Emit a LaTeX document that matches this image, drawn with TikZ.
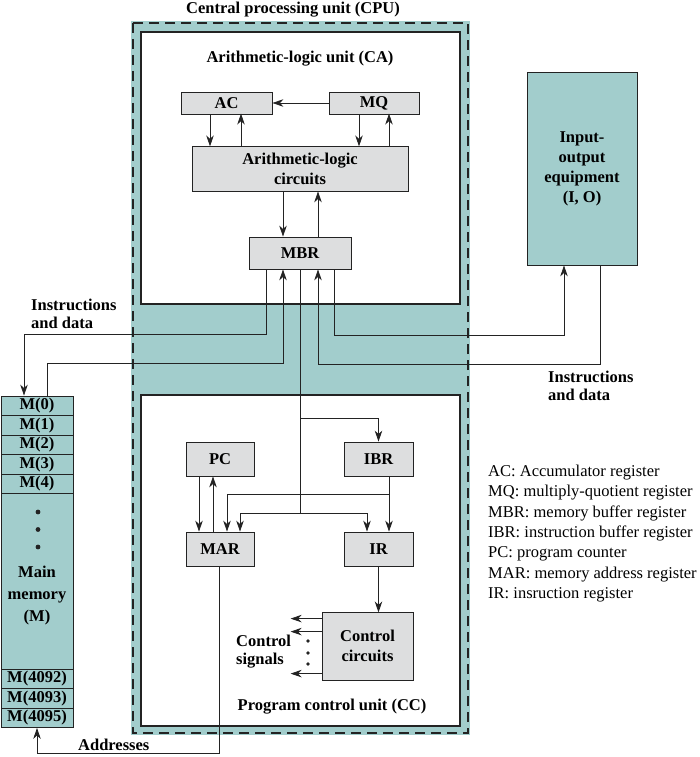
\documentclass[tikz,border=0pt]{standalone}
\usepackage{fontspec}
\setmainfont{Liberation Serif}
\usetikzlibrary{arrows.meta}
\definecolor{teal1}{RGB}{162,205,204}
\definecolor{gray1}{RGB}{221,222,223}
\definecolor{ink}{RGB}{35,35,35}
\begin{document}
\begin{tikzpicture}[x=1pt,y=-1pt,
  font=\fontsize{16.5}{20}\selectfont,
  reg/.style={draw=ink, fill=gray1, line width=0.8pt, inner sep=0pt, align=center,
    font=\fontsize{16.5}{20}\selectfont\bfseries},
  cell/.style={draw=ink, fill=teal1, line width=0.8pt, inner sep=0pt, minimum width=72pt,
    minimum height=19.5pt, font=\fontsize{16.5}{20}\selectfont\bfseries},
  arr/.style={draw=ink, line width=0.8pt, -{Stealth[length=11pt,width=7.5pt,inset=3.5pt]}},
  ln/.style={draw=ink, line width=0.8pt},
  lbl/.style={font=\fontsize{16.5}{18}\selectfont\bfseries, align=left, inner sep=0pt},
  unitbox/.style={draw=ink, fill=white, line width=2.5pt},
  dot/.style={fill=ink, draw=none}]
\useasboundingbox (0,0) rectangle (699,757);

% CPU region
\fill[teal1] (131,21) rectangle (470,735);
\draw[unitbox] (141,32) rectangle (460,304);
\draw[unitbox] (141,395) rectangle (460,726);
\draw[ink, line width=2.5pt, dash pattern=on 10pt off 6pt] (133,23) rectangle (468,733);

\node[lbl] (cputitle) at (293,10) {Central processing unit (CPU)};
\node[lbl] (alutitle) at (300,59) {Arithmetic-logic unit (CA)};
\node[lbl] (pcutitle) at (332,707) {Program control unit (CC)};

% ALU registers
\node[reg, minimum width=91pt, minimum height=22pt] (ac) at (226.5,103) {AC};
\node[reg, minimum width=90pt, minimum height=22pt] (mq) at (374,103) {MQ};
\node[reg, minimum width=216pt, minimum height=45pt] (alc) at (300,168.5) {Arithmetic-logic\\circuits};
\node[reg, minimum width=102pt, minimum height=32pt] (mbr) at (300,253) {MBR};

% I/O
\node[draw=ink, fill=teal1, line width=0.8pt, minimum width=110pt, minimum height=193pt,
  inner sep=0pt, align=center, font=\fontsize{16.5}{20}\selectfont\bfseries]
  (io) at (582,168.5) {Input-\\output\\equipment\\(I, O)};

% Program control registers
\node[reg, minimum width=68pt, minimum height=34pt] (pc) at (220,459) {PC};
\node[reg, minimum width=69pt, minimum height=34pt] (ibr) at (378.5,459) {IBR};
\node[reg, minimum width=68pt, minimum height=34pt] (mar) at (220,549) {MAR};
\node[reg, minimum width=69pt, minimum height=34pt] (ir) at (378.5,549) {IR};
\node[reg, minimum width=91pt, minimum height=68pt] (ctrl) at (367.5,646) {Control\\circuits};

% Main memory
\node[cell, minimum height=331.5pt] (mem) at (37,561.75) {};
\node[cell] (m0) at (37,405.75) {M(0)};
\node[cell] (m1) at (37,425.25) {M(1)};
\node[cell] (m2) at (37,444.75) {M(2)};
\node[cell] (m3) at (37,464.25) {M(3)};
\node[cell] (m4) at (37,483.75) {M(4)};
\node[cell, minimum height=175.5pt] (mbig) at (37,581.25) {};
\node[cell] (m4092) at (37,678.75) {M(4092)};
\node[cell] (m4093) at (37,698.25) {M(4093)};
\node[cell] (m4095) at (37,717.75) {M(4095)};
\fill[dot] (38,512) circle (2.4pt) (38,529.5) circle (2.4pt) (38,547) circle (2.4pt);
\node[lbl, align=center, font=\fontsize{16.5}{22}\selectfont\bfseries] (mmlabel) at (37,596) {Main\\memory\\(M)};

% ALU connections
\draw[arr] (mq.west) -- (ac.east);
\draw[arr] ([xshift=-16.5pt]ac.south) -- ++(0,32);
\draw[arr] (alc.north -| ac.south) ++(14.5,0) -- ++(0,-32);
\draw[arr] ([xshift=-15pt]mq.south) -- ++(0,32);
\draw[arr] (alc.north -| mq.south) ++(15,0) -- ++(0,-32);
\draw[arr] ([xshift=-17pt]alc.south) -- ([xshift=-17pt]mbr.north);
\draw[arr] ([xshift=18pt]mbr.north) -- ([xshift=18pt]alc.south);

% MBR <-> memory
\draw[arr] ([xshift=-34pt]mbr.south) -- ++(0,65) -| ([xshift=-13pt]mem.north);
\draw[arr] ([xshift=10pt]mem.north) -- ++(0,-32) -| ([xshift=-17pt]mbr.south);
% MBR <-> I/O
\draw[arr] ([xshift=34pt]mbr.south) -- ++(0,66) -| ([xshift=-18pt]io.south);
\draw[arr] ([xshift=18pt]io.south) -- ++(0,99) -| ([xshift=18pt]mbr.south);

\node[lbl] (insL) at (31,314) [anchor=west] {Instructions\\and data};
\node[lbl] (insR) at (548,386) [anchor=west] {Instructions\\and data};

% MBR to program control
\draw[ln] (mbr.south) -- (300,513) coordinate (jn);
\draw[arr] (jn) -| ([xshift=20pt]mar.north);
\draw[arr] (jn) -| ([xshift=-11.5pt]ir.north);
\coordinate (jb) at (300,418);
\draw[arr] (jb) -| (ibr.north);

% PC <-> MAR
\draw[arr] ([xshift=-21pt]pc.south) -- ([xshift=-21pt]mar.north);
\draw[arr] ([xshift=-7pt]mar.north) -- ([xshift=-7pt]pc.south);
% IBR -> IR, IBR -> MAR
\draw[arr] ([xshift=10.5pt]ibr.south) -- ([xshift=10.5pt]ir.north);
\coordinate (jibr) at (389,494);
\draw[arr] (jibr) -| ([xshift=7pt]mar.north);
% IR -> control
\draw[arr] (ir.south) -- ++(0,46);

% control signals
\draw[arr] (ctrl.north west) ++(0,7) -- ++(-31,0);
\draw[arr] (ctrl.north west) ++(0,20) -- ++(-31,0);
\draw[arr] (ctrl.north west) ++(0,62) -- ++(-31,0);
\fill[dot] (308,641) circle (1.8pt) (308,653) circle (1.8pt) (308,664) circle (1.8pt);
\node[lbl, anchor=west] (ctrlsig) at (236,652) {Control\\signals};

% MAR -> memory (addresses)
\draw[arr] ([xshift=-1pt]mar.south) -- ++(0,187) -| (mem.south);
\node[lbl, anchor=west] (addr) at (78,745) {Addresses};

% legend
\node[anchor=north west, align=left, inner sep=0pt, font=\fontsize{16.5}{20.3}\selectfont] (legend) at (488,465)
 {AC: Accumulator register\\MQ: multiply-quotient register\\MBR: memory buffer register\\IBR: instruction buffer register\\PC: program counter\\MAR: memory address register\\IR: insruction register};
\end{tikzpicture}
\end{document}
